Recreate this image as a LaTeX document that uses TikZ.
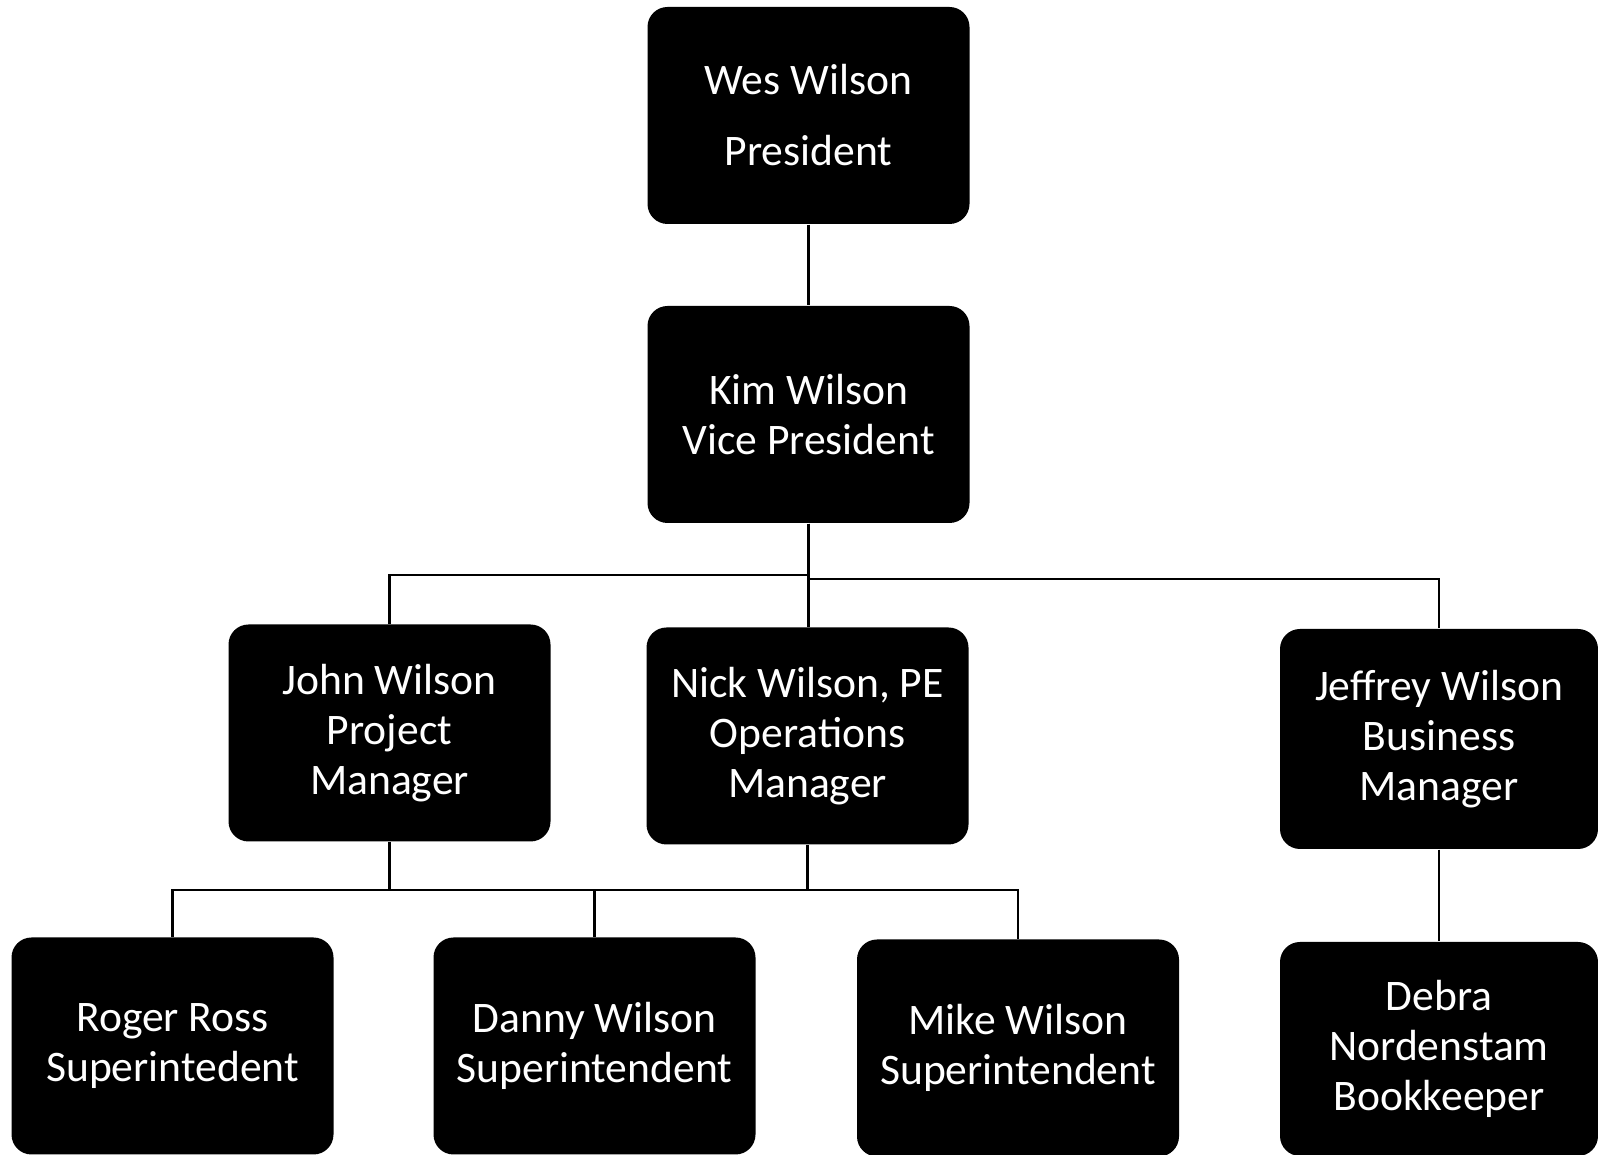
\documentclass[tikz,border=0pt]{standalone}
\usepackage{xcolor}
\usepackage{fontspec}
\setmainfont{Carlito}
\usepackage{tikz}

\begin{document}
\begin{tikzpicture}[
        person/.style={fill=black, text=white,
                       rounded corners=0.2cm,
                       minimum width=3.22cm, minimum height=2.17cm,
                       inner sep=0pt, align=center,
                       font=\fontsize{12.4}{14.2}\selectfont},
        link/.style={draw=black, line width=0.6pt}]
        \useasboundingbox (0,0) rectangle (15.98,11.55);
        % top
        \node[person] (wes)   at (8.085,10.395) {Wes Wilson\\[6pt]President};
        \node[person] (kim)   at (8.085,7.405)  {Kim Wilson\\Vice President};
        % managers
        \node[person] (john)  at (3.895,4.22)   {John Wilson\\Project\\Manager};
        \node[person] (nick)  at (8.075,4.19)   {Nick Wilson, PE\\Operations\\Manager};
        \node[person, minimum width=3.18cm, minimum height=2.2cm]
                      (jeff)  at (14.39,4.16)   {Jeffrey Wilson\\Business\\Manager};
        % field and office
        \node[person] (roger) at (1.725,1.09)   {Roger Ross\\Superintedent};
        \node[person] (danny) at (5.945,1.09)   {Danny Wilson\\Superintendent};
        \node[person] (mike)  at (10.18,1.07)   {Mike Wilson\\Superintendent};
        \node[person, minimum width=3.18cm, minimum height=2.14cm]
                      (debra) at (14.39,1.06)   {Debra\\Nordenstam\\Bookkeeper};
        % lines
        \draw[link] (wes.south) -- (kim.north);
        \draw[link] (kim.south) -- (kim.south |- nick.north);
        \draw[link] (kim.south) -- ++(0,-0.51) -| (john.north);
        \draw[link] (kim.south) -- ++(0,-0.55) -| (jeff.north);
        \draw[link] (john.south) -- ++(0,-0.48) coordinate (bus);
        \draw[link] (nick.south) -- (nick.south |- bus);
        \draw[link] (roger.north) |- (mike.north |- bus) -- (mike.north);
        \draw[link] (danny.north) -- (danny.north |- bus);
        \draw[link] (jeff.south) -- (debra.north);
\end{tikzpicture}
\end{document}
